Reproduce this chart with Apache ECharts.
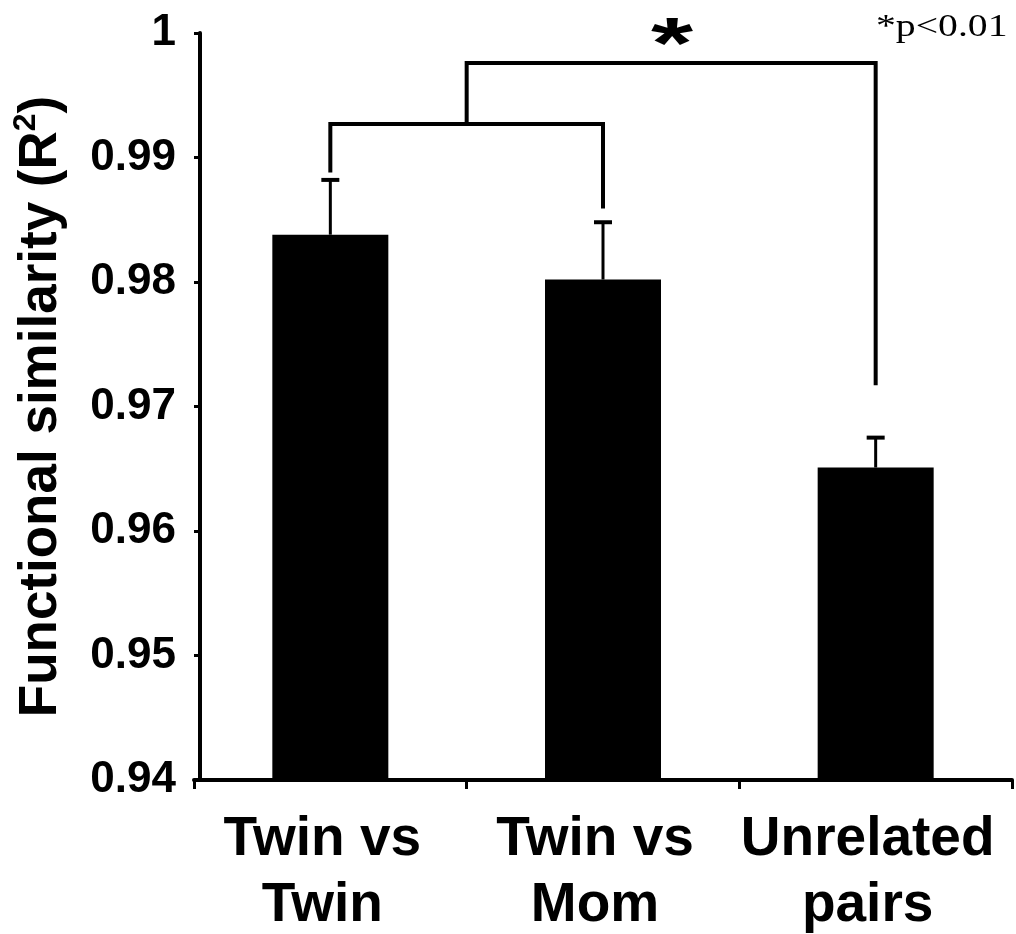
<!DOCTYPE html>
<html>
<head>
<meta charset="utf-8">
<script src="https://cdn.jsdelivr.net/npm/echarts@6/dist/echarts.min.js"></script>
<style>
  html, body { margin: 0; padding: 0; background: #fff; }
  #chart { width: 1016px; height: 934px; }
</style>
</head>
<body>
<div id="chart"></div>
<script>
const categories = ["Twin vs\nTwin", "Twin vs\nMom", "Unrelated\npairs"];
const means = [0.9838, 0.9802, 0.9651];
const errUpper = [0.9882, 0.9848, 0.9675];
// brackets: [xFrom, xTo, yTop, yEndLeft, yEndRight] in data units
const brackets = [
  [0, 1, 0.9927, 0.9888, 0.9859],
  [0.5, 2, 0.9976, 0.9927, 0.9717],
];
const yTicks = { min: 0.94, max: 1, step: 0.01 };

const chart = echarts.init(document.getElementById("chart"));

function xPix(api, v, y) {
  const a = Math.floor(v), b = Math.ceil(v);
  const pa = api.coord([a, y]), pb = api.coord([b, y]);
  const t = v - a;
  return [pa[0] + (pb[0] - pa[0]) * t, pa[1]];
}

chart.setOption({
  animation: false,
  grid: { left: 194, right: 4, top: 33, bottom: 154, outerBoundsMode: "none", containLabel: false },
  xAxis: {
    type: "category",
    data: categories,
    axisLine: { lineStyle: { color: "#000", width: 4 } },
    axisTick: { show: true, length: 9, lineStyle: { color: "#000", width: 3 } },
    axisLabel: {
      color: "#000",
      fontFamily: "Liberation Sans, Arial, sans-serif",
      fontWeight: "bold",
      fontSize: 55,
      lineHeight: 66,
      margin: 27,
      padding: [0, 16, 0, 0],
      interval: 0,
    },
  },
  yAxis: {
    type: "value",
    min: yTicks.min,
    max: yTicks.max,
    interval: yTicks.step,
    offset: -6,
    splitLine: { show: false },
    axisLine: { show: true, lineStyle: { color: "#000", width: 4 } },
    axisTick: { show: true, length: 6, lineStyle: { color: "#000", width: 3 } },
    axisLabel: {
      color: "#000",
      fontFamily: "Liberation Sans, Arial, sans-serif",
      fontWeight: "bold",
      fontSize: 44,
      margin: 24,
      formatter: (v) => (Math.abs(v - 1) < 1e-9 ? "1" : v.toFixed(2)),
    },
    name: "{a|Functional similarity (R}{s|2}{a|)}",
    nameLocation: "middle",
    nameRotate: 90,
    nameGap: 128,
    nameTextStyle: {
      rich: {
        a: {
          color: "#000",
          fontFamily: "Liberation Sans, Arial, sans-serif",
          fontWeight: "bold",
          fontSize: 53,
          lineHeight: 62,
        },
        s: {
          color: "#000",
          fontFamily: "Liberation Sans, Arial, sans-serif",
          fontWeight: "bold",
          fontSize: 32,
          lineHeight: 62,
          verticalAlign: "top",
          padding: [0, 0, 22, 0],
        },
      },
    },
  },
  series: [
    {
      type: "bar",
      data: means,
      barWidth: 116,
      itemStyle: { color: "#000" },
      z: 2,
    },
    {
      type: "custom",
      z: 3,
      data: means.map((m, i) => [i, m, errUpper[i]]),
      renderItem: (params, api) => {
        const base = api.coord([api.value(0), api.value(1)]);
        const top = api.coord([api.value(0), api.value(2)]);
        const style = { stroke: "#000", lineWidth: 3 };
        return {
          type: "group",
          children: [
            { type: "line", shape: { x1: base[0], y1: base[1], x2: top[0], y2: top[1] }, style },
            { type: "line", shape: { x1: top[0] - 9, y1: top[1], x2: top[0] + 9, y2: top[1] }, style: { stroke: "#000", lineWidth: 4 } },
          ],
        };
      },
    },
    {
      type: "custom",
      z: 3,
      data: brackets,
      renderItem: (params, api) => {
        const x1 = api.value(0), x2 = api.value(1);
        const yt = api.value(2), yl = api.value(3), yr = api.value(4);
        const pl = xPix(api, x1, yt), pr = xPix(api, x2, yt);
        const pld = xPix(api, x1, yl), prd = xPix(api, x2, yr);
        return {
          type: "polyline",
          shape: { points: [[pld[0], pld[1]], [pl[0], pl[1]], [pr[0], pr[1]], [prd[0], prd[1]]] },
          style: { stroke: "#000", lineWidth: 4, fill: null, lineJoin: "miter" },
        };
      },
    },
  ],
  graphic: [
    {
      type: "text",
      x: 651,
      y: 11,
      scaleX: 1.08,
      scaleY: 0.73,
      style: {
        text: "*",
        fill: "#000",
        font: "bold 100px Liberation Sans, Arial, sans-serif",
      },
    },
    {
      type: "text",
      x: 876,
      y: 12,
      scaleX: 1.28,
      style: {
        text: "*p<0.01",
        fill: "#000",
        font: "31px Liberation Serif, Times New Roman, serif",
      },
    },
  ],
});
</script>
</body>
</html>
